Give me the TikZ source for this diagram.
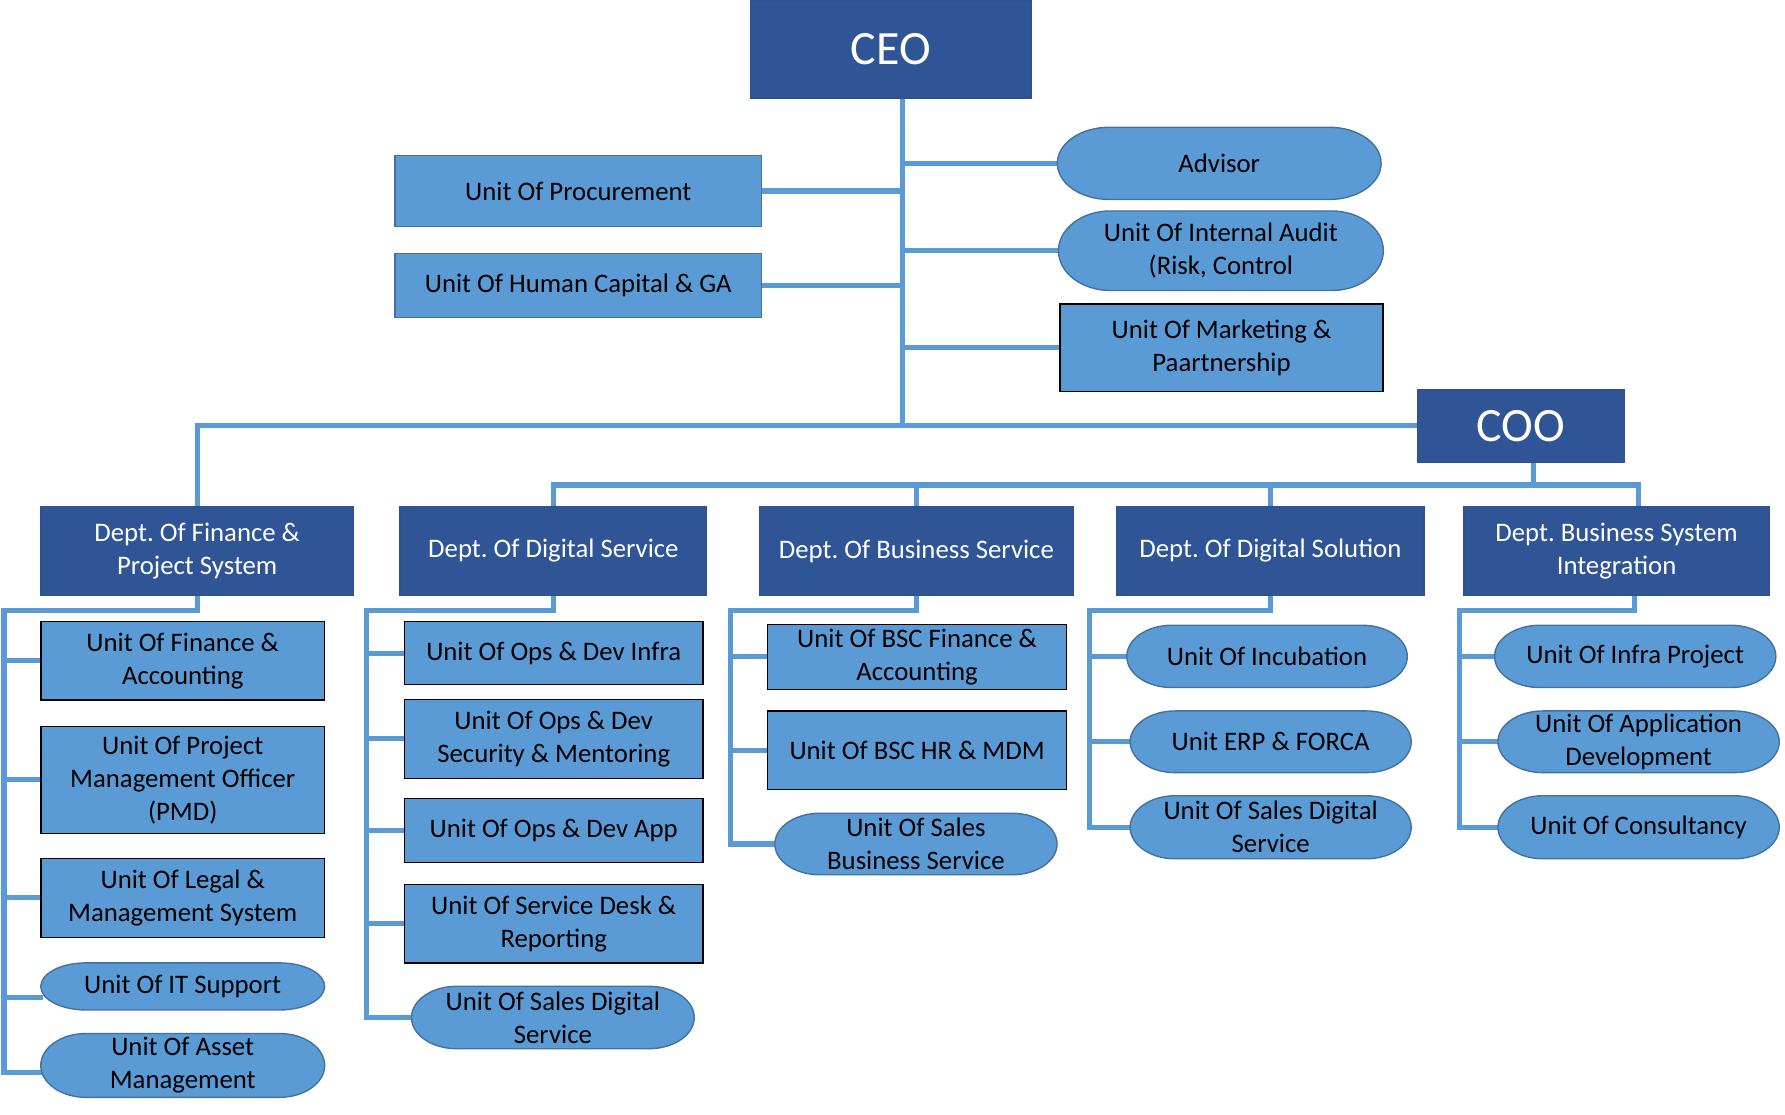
\documentclass[tikz,border=0pt]{standalone}
\usepackage{fontspec}
\setmainfont{Carlito}
\usetikzlibrary{calc,backgrounds}
\definecolor{dark}{HTML}{2F5597}
\definecolor{light}{HTML}{5B9BD5}
\definecolor{lborder}{HTML}{41719C}
\definecolor{dborder}{HTML}{2F528F}
\tikzset{
  base/.style={rectangle, inner sep=2pt, align=center, font=\fontsize{23.5pt}{29pt}\selectfont\frenchspacing, text=black},
  ubox/.style={base, draw=lborder, line width=1.2pt, fill=light},
  kbox/.style={base, draw=black, line width=1.2pt, fill=light},
  pill/.style={base},
  pillfill/.style={fill=light, draw=lborder, line width=1.2pt},
  dept/.style={base, draw=dborder, line width=1.2pt, fill=dark, text=white},
  topbox/.style={dept, font=\fontsize{42pt}{50pt}\selectfont},
  conn/.style={draw=light, line width=4.5pt, line cap=rect},
}
\newcommand\pillshape[1]{%
  \path[pillfill] let \p1=(#1.north west), \p2=(#1.south east),
    \n1={0.16*(\x2-\x1)}, \n2={(\y1-\y2)/2} in
    (\x1+\n1,\y1) -- (\x2-\n1,\y1)
    arc[start angle=90,end angle=-90,x radius=\n1,y radius=\n2]
    -- (\x1+\n1,\y2)
    arc[start angle=270,end angle=90,x radius=\n1,y radius=\n2] -- cycle;}
\begin{document}
\frenchspacing
\begin{tikzpicture}[x=1pt,y=-1pt]
\useasboundingbox (0,0) rectangle (1568,978.6);
% top level
\node[topbox, minimum width=247pt, minimum height=85pt] (ceo) at (782.5,43.5) {CEO};
\node[ubox, minimum width=322pt, minimum height=62.5pt] (proc) at (508,167.75) {Unit Of Procurement};
\node[ubox, minimum width=322pt, minimum height=56.5pt] (hc) at (508,250.75) {Unit Of Human Capital \& GA};
\node[pill, minimum width=284pt, minimum height=63pt] (adv) at (1071,143.5) {Advisor};
\node[pill, minimum width=285pt, minimum height=69.5pt] (audit) at (1072.5,220.25) {Unit Of Internal Audit\\(Risk, Control};
\node[kbox, minimum width=284pt, minimum height=77pt] (mkt) at (1073,305.5) {Unit Of Marketing \&\\Paartnership};
\node[topbox, minimum width=182pt, minimum height=64pt] (coo) at (1336,374) {COO};
% departments
\node[dept, minimum width=274.5pt, minimum height=78pt] (dfin) at (173.25,484) {Dept. Of Finance \&\\Project System};
\node[dept, minimum width=269.3pt, minimum height=78pt] (dds) at (486.15,484) {Dept. Of Digital Service};
\node[dept, minimum width=276pt, minimum height=78pt] (dbs) at (805,484) {Dept. Of Business Service};
\node[dept, minimum width=270pt, minimum height=78pt] (ddsol) at (1116,484) {Dept. Of Digital Solution};
\node[dept, minimum width=268pt, minimum height=78pt] (dbsi) at (1420,484) {Dept. Business System\\Integration};
% finance units
\node[kbox, minimum width=249pt, minimum height=69pt] (ffa) at (160.5,580.5) {Unit Of Finance \&\\Accounting};
\node[kbox, minimum width=249pt, minimum height=94pt] (fpmd) at (160.5,685) {Unit Of Project\\Management Officer\\(PMD)};
\node[kbox, minimum width=249pt, minimum height=69.4pt] (flegal) at (160.5,788.7) {Unit Of Legal \&\\Management System};
\node[pill, minimum width=249pt, minimum height=41pt] (fit) at (160.5,866.5) {Unit Of IT Support};
\node[pill, minimum width=249pt, minimum height=55.7pt] (fasset) at (160.5,935.9) {Unit Of Asset\\Management};
% digital service units
\node[kbox, minimum width=262pt, minimum height=55.3pt] (dinfra) at (486.4,573.7) {Unit Of Ops \& Dev Infra};
\node[kbox, minimum width=262pt, minimum height=69.6pt] (dsec) at (486.4,649) {Unit Of Ops \& Dev\\Security \& Mentoring};
\node[kbox, minimum width=262pt, minimum height=56.3pt] (dapp) at (486.4,729.6) {Unit Of Ops \& Dev App};
\node[kbox, minimum width=262pt, minimum height=69pt] (ddesk) at (486.4,811.5) {Unit Of Service Desk \&\\Reporting};
\node[pill, minimum width=248pt, minimum height=54.4pt] (dsales) at (485.65,893.8) {Unit Of Sales Digital\\Service};
% business service units
\node[kbox, minimum width=262.8pt, minimum height=57pt] (bfin) at (805.6,577) {Unit Of BSC Finance \&\\Accounting};
\node[kbox, minimum width=262.8pt, minimum height=69pt] (bhr) at (805.6,659.2) {Unit Of BSC HR \& MDM};
\node[pill, minimum width=247.5pt, minimum height=53.7pt] (bsales) at (804.6,741.4) {Unit Of Sales\\Business Service};
% digital solution units
\node[pill, minimum width=246pt, minimum height=54.3pt] (sinc) at (1113,576.6) {Unit Of Incubation};
\node[pill, minimum width=246.5pt, minimum height=53.8pt] (serp) at (1116.2,651.6) {Unit ERP \& FORCA};
\node[pill, minimum width=246.5pt, minimum height=55pt] (ssales) at (1116.2,726.7) {Unit Of Sales Digital\\Service};
% business system integration units
\node[pill, minimum width=246.7pt, minimum height=54.3pt] (iinfra) at (1436.4,576.6) {Unit Of Infra Project};
\node[pill, minimum width=246.7pt, minimum height=53.8pt] (iapp) at (1439.4,651.6) {Unit Of Application\\Development};
\node[pill, minimum width=246.7pt, minimum height=55pt] (icons) at (1439.4,726.7) {Unit Of Consultancy};

\begin{pgfonlayer}{background}
% CEO trunk
\coordinate (tt) at (793,85);
\coordinate (tb) at (793,374);
\draw[conn] (tt) -- (tb);
\draw[conn] (dfin.north) |- (coo.west);
\foreach \k in {proc,hc} \draw[conn] (\k.east) -- (\k.east -| tt);
\foreach \k in {adv,audit,mkt} \draw[conn] (\k.west) -- (\k.west -| tt);
% COO bus
\coordinate (busL) at (486,426);
\coordinate (busR) at (1439,426);
\draw[conn] ([xshift=11pt]coo.south) -- ([xshift=11pt]coo.south |- busL);
\draw[conn] (dds.north) |- (busR) -- (busR |- dbsi.north);
\draw[conn] (dbs.north) -- (dbs.north |- busL);
\draw[conn] (ddsol.north) -- (ddsol.north |- busL);
% rails
\coordinate (rf) at (3.5,536);
\coordinate (rd) at (322,536);
\coordinate (rb) at (642,536);
\coordinate (rs) at (957,536);
\coordinate (ri) at (1282,536);
\draw[conn] (dfin.south) |- (rf);
\draw[conn] (dds.south) |- (rd);
\draw[conn] (dbs.south) |- (rb);
\draw[conn] (ddsol.south) |- (rs);
\draw[conn] ([xshift=16pt]dbsi.south) |- (ri);
\foreach \k in {ffa,fpmd,flegal} \draw[conn] (rf) |- (\k.west);
\draw[conn] (rf) |- ([yshift=-10pt]fit.west);
\draw[conn] (rf) |- ([yshift=-6pt]fasset.west);
\foreach \k in {dinfra,dsec,dapp,ddesk,dsales} \draw[conn] (rd) |- (\k.west);
\foreach \k in {bfin,bhr,bsales} \draw[conn] (rb) |- (\k.west);
\foreach \k in {sinc,serp,ssales} \draw[conn] (rs) |- (\k.west);
\foreach \k in {iinfra,iapp,icons} \draw[conn] (ri) |- (\k.west);
% pill shapes
\foreach \k in {adv,audit,fit,fasset,dsales,bsales,sinc,serp,ssales,iinfra,iapp,icons} {\pillshape{\k}}
\end{pgfonlayer}
\end{tikzpicture}
\end{document}
